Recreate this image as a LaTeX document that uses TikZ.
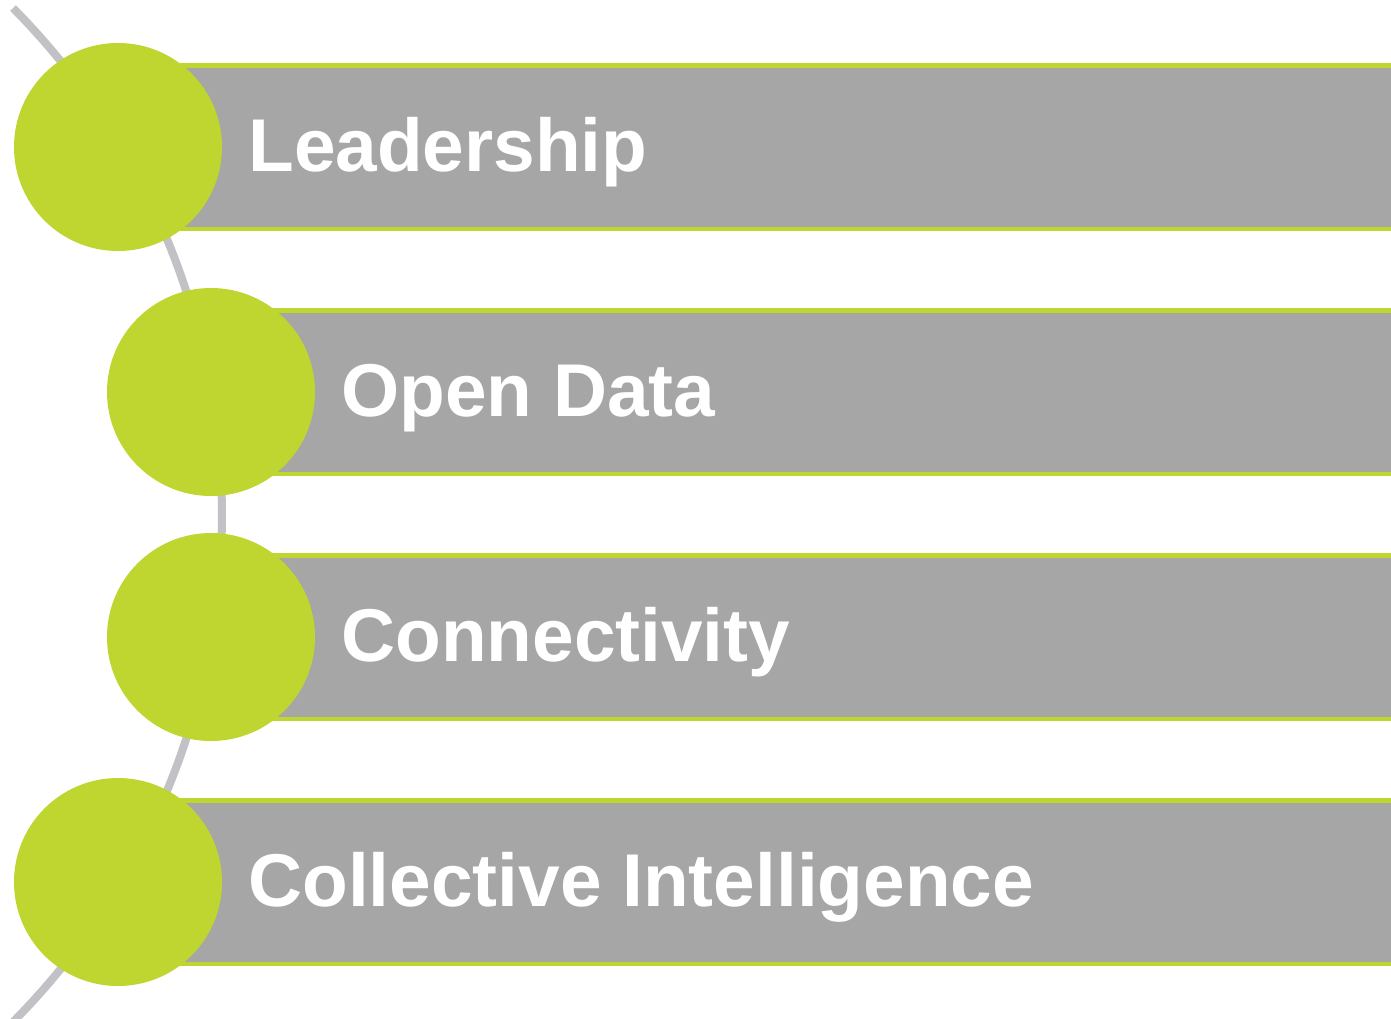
\documentclass[tikz,border=0pt]{standalone}
\usepackage{fontspec}
\setmainfont{Liberation Sans}
\definecolor{leafgreen}{HTML}{BED62F}
\definecolor{bandgrey}{HTML}{A6A6A6}
\definecolor{spinegrey}{HTML}{C2C2C6}
\begin{document}
\begin{tikzpicture}[x=0.5pt,y=-0.5pt,
    bead/.style={circle,fill=leafgreen,minimum size=104pt,inner sep=0pt},
    band/.style={rectangle,fill=bandgrey,minimum height=83.5pt,minimum width=700pt,inner sep=0pt,anchor=west},
    rim/.style={draw=leafgreen,line width=2.2pt},
    caption/.style={text=white,font=\fontsize{37.4}{40}\selectfont\bfseries,anchor=base west,inner sep=0pt},
    spine/.style={draw=spinegrey,line width=4pt}]
    \clip (0,0) rectangle (1391,1018);
    \fill[white] (0,0) rectangle (1391,1018);
    % the curve behind the beads
    \draw[spine] plot[domain=-44.8:44.8,samples=80] ({-497.5+719.5*cos(\x)},{515+719.5*sin(\x)});
    \foreach \n/\cx/\cy/\txt in {1/118/147/Leadership,
                                 2/211/392/Open Data,
                                 3/211/637/Connectivity,
                                 4/118/882/Collective Intelligence} {
        \node[band] (band\n) at (\cx,\cy) {};
        \draw[rim] ([yshift=-1.1pt]band\n.north west) -- ([yshift=-1.1pt]band\n.north east);
        \draw[rim] ([yshift=1.1pt]band\n.south west) -- ([yshift=1.1pt]band\n.south east);
        \node[bead] (bead\n) at (\cx,\cy) {};
        \node[caption] (label\n) at (\cx+130,\cy+24) {\txt};
    }
\end{tikzpicture}
\end{document}
